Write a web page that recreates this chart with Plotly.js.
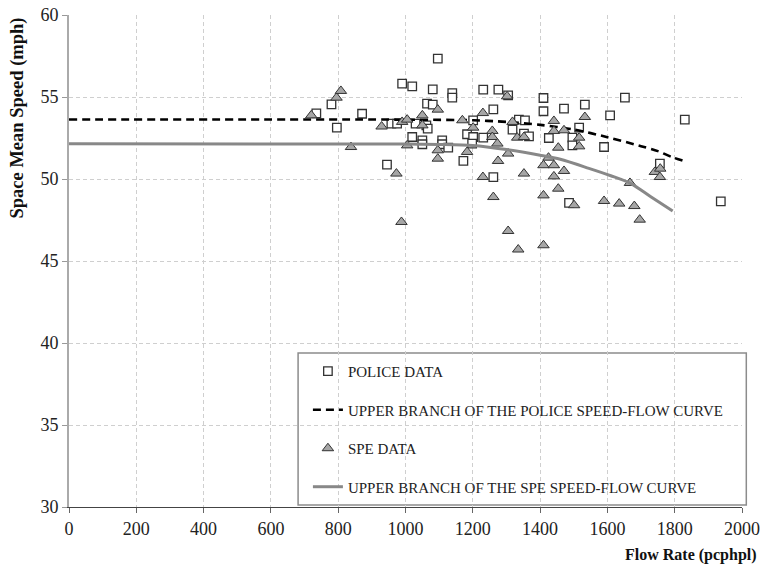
<!DOCTYPE html>
<html>
<head>
<meta charset="utf-8">
<script src="https://cdn.plot.ly/plotly-3.0.1.min.js"></script>
<style>html,body{margin:0;padding:0;background:#fff;}#chart{width:764px;height:573px;}</style>
</head>
<body>
<div id="chart"></div>
<script>
// Police data (flow rate pcphpl, speed mph)
var policeFlow = [735,780,796,871,945,958,975,990,1020,1096,1081,1139,1139,1231,1276,1064,1081,1261,1030,1062,1066,1201,1183,1201,1231,1198,1020,1050,1050,1109,1109,1127,1172,1261,1410,1410,1471,1533,1608,1337,1355,1318,1352,1367,1426,1516,1496,1496,1590,1486,1652,1830,1756,1937,1305];
var policeSpeed = [54.0,54.55,53.13,53.98,50.88,53.38,53.38,55.82,55.65,57.34,55.47,55.24,54.96,55.45,55.45,54.6,54.54,54.25,53.38,53.27,53.07,53.58,52.73,52.56,52.52,52.16,52.56,52.36,52.12,52.36,52.12,51.91,51.1,50.12,54.94,54.13,54.29,54.54,53.88,53.62,53.58,53.01,52.77,52.6,52.5,53.13,52.52,52.05,51.95,48.54,54.96,53.62,50.94,48.64,55.1];

// SPE data
var speFlow = [720,795,808,838,929,973,988,990,1005,1005,1050,1050,1096,1096,1096,1169,1183,1201,1230,1230,1258,1258,1273,1261,1275,1302,1305,1305,1318,1332,1352,1352,1335,1410,1410,1410,1425,1441,1441,1441,1441,1454,1454,1471,1471,1501,1516,1516,1533,1590,1635,1667,1680,1696,1741,1757,1756];
var speSpeed = [53.88,54.96,55.37,51.95,53.2,50.33,47.38,53.48,53.62,52.05,53.88,53.27,54.23,51.75,51.24,53.58,51.65,53.13,54.02,50.12,52.93,52.56,52.16,48.9,51.1,55.04,51.55,46.83,53.48,52.52,52.56,50.33,45.7,45.96,50.84,49.0,51.3,53.54,52.93,50.84,50.16,51.91,49.41,52.97,50.49,48.4,52.52,51.99,53.78,48.66,48.5,49.76,48.35,47.52,50.43,50.63,50.12];

// Speed-flow curves
var policeCurveFlow = [0,1000,1200,1300,1400,1500,1600,1700,1750,1790,1836];
var policeCurveSpeed = [53.63,53.62,53.58,53.48,53.3,53.02,52.55,52.0,51.7,51.35,51.04];
var speCurveFlow = [0,1000,1100,1200,1300,1400,1460,1545,1610,1670,1730,1794];
var speCurveSpeed = [52.15,52.13,52.11,52.05,51.8,51.45,51.2,50.65,50.2,49.72,48.9,48.05];

var xTicks = [0,200,400,600,800,1000,1200,1400,1600,1800,2000];
var yTicks = [30,35,40,45,50,55,60];

var serif = "'Liberation Serif', 'Times New Roman', serif";

var traces = [
  {x: policeFlow, y: policeSpeed, type: 'scatter', mode: 'markers', name: 'POLICE DATA', legendgroup: 'a',
   marker: {symbol: 'square', size: 8.5, color: '#ffffff', line: {color: '#333333', width: 1.3}}},
  {x: policeCurveFlow, y: policeCurveSpeed, type: 'scatter', mode: 'lines', name: 'UPPER BRANCH OF THE POLICE SPEED-FLOW CURVE', legendgroup: 'b',
   line: {color: '#000000', width: 2.6, dash: '8px,5px', shape: 'spline', smoothing: 0.8}},
  {x: speFlow, y: speSpeed, type: 'scatter', mode: 'markers', name: 'SPE DATA', legendgroup: 'c',
   marker: {symbol: 'triangle-up', size: 10, color: '#a6a6a6', line: {color: '#333333', width: 1}}},
  {x: speCurveFlow, y: speCurveSpeed, type: 'scatter', mode: 'lines', name: 'UPPER BRANCH OF THE SPE SPEED-FLOW CURVE', legendgroup: 'd',
   line: {color: '#888888', width: 3, shape: 'spline', smoothing: 0.8}}
];

var layout = {
  width: 764, height: 573,
  margin: {l: 69, r: 22, t: 15, b: 66},
  paper_bgcolor: '#fff', plot_bgcolor: '#fff',
  font: {family: serif, color: '#222'},
  showlegend: true,
  legend: {x: 0.355, y: 0.309, xanchor: 'left', yanchor: 'top', bgcolor: 'rgba(0,0,0,0)',
           borderwidth: 0, font: {family: serif, size: 15, color: '#222'},
           traceorder: 'grouped', tracegroupgap: 16, itemwidth: 30},
  shapes: [
    {type: 'rect', xref: 'paper', yref: 'paper', x0: 0.3404, x1: 1.0064, y0: 0.004, y1: 0.313,
     fillcolor: '#ffffff', line: {color: '#8c8c8c', width: 1.5}, layer: 'below'}
  ],
  xaxis: {range: [0, 2000], tickvals: xTicks, ticktext: xTicks.map(String),
          showgrid: true, gridcolor: '#cfcfcf', griddash: '4px,3px', gridwidth: 1,
          showline: true, linecolor: '#444', linewidth: 1, ticks: 'outside', ticklen: 5, tickcolor: '#666',
          zeroline: false, tickfont: {family: serif, size: 18, color: '#222'}},
  yaxis: {range: [30, 60], tickvals: yTicks, ticktext: yTicks.map(String),
          showgrid: true, gridcolor: '#cfcfcf', griddash: '4px,3px', gridwidth: 1,
          showline: true, linecolor: '#aaa', linewidth: 2, ticks: 'outside', ticklen: 5, tickcolor: '#999',
          zeroline: false, tickfont: {family: serif, size: 18, color: '#222'}},
  annotations: [
    {text: '<b>Flow Rate (pcphpl)</b>', xref: 'paper', yref: 'paper', x: 1.025, y: -0.097,
     xanchor: 'right', yanchor: 'middle', showarrow: false, font: {family: serif, size: 16, color: '#111'}},
    {text: '<b>Space Mean Speed (mph)</b>', xref: 'paper', yref: 'paper', x: -0.077, y: 0.79,
     xanchor: 'center', yanchor: 'middle', textangle: -90, showarrow: false, font: {family: serif, size: 18.5, color: '#111'}}
  ]
};

Plotly.newPlot('chart', traces, layout, {displayModeBar: false, staticPlot: true});
</script>
</body>
</html>
